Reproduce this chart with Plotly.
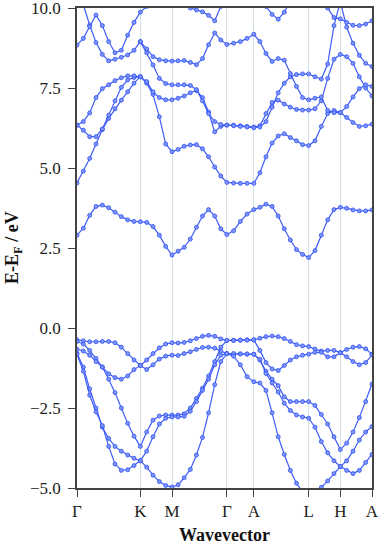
import plotly.graph_objects as go

# k-path sampling (path length, Gamma-K = 1)
k = [0.0, 0.1, 0.2, 0.3, 0.4, 0.5, 0.6, 0.7, 0.8, 0.9, 1.0,
     1.1, 1.2, 1.3, 1.4, 1.5,
     1.596, 1.692, 1.789, 1.885, 1.981, 2.077, 2.174, 2.270, 2.366,
     2.472, 2.579, 2.685, 2.791,
     2.887, 2.983, 3.080, 3.176, 3.272, 3.368, 3.465, 3.561, 3.657,
     3.757, 3.857, 3.957, 4.057, 4.157,
     4.257, 4.357, 4.457, 4.557, 4.657]

sym_pos = [0.0, 1.0, 1.5, 2.366, 2.791, 3.657, 4.157, 4.657]
sym_labels = ["Γ", "K", "M", "Γ", "A", "L", "H", "A"]

e_ticks = [-5, -2.5, 0, 2.5, 5, 7.5, 10]
e_labels = ["−5.0", "−2.5", "0.0", "2.5", "5.0", "7.5", "10.0"]

# valence bands (eV)
val_1 = [-0.37, -0.40, -0.43, -0.43, -0.42, -0.42, -0.46, -0.60, -0.80, -1.00, -1.17,
         -1.00, -0.80, -0.62, -0.50, -0.46,
         -0.47, -0.45, -0.40, -0.33, -0.26, -0.23, -0.26, -0.34, -0.39,
         -0.38, -0.38, -0.37, -0.37,
         -0.32, -0.27, -0.25, -0.27, -0.33, -0.42, -0.52, -0.56, -0.58,
         -0.66, -0.72, -0.70, -0.70, -0.77,
         -0.67, -0.60, -0.58, -0.65, -0.82]
val_2 = [-0.42, -0.50, -0.70, -0.95, -1.22, -1.43, -1.55, -1.60, -1.50, -1.30, -1.17,
         -1.30, -1.15, -0.97, -0.88, -0.85,
         -0.86, -0.80, -0.74, -0.67, -0.61, -0.60, -0.63, -0.72, -0.80,
         -0.81, -0.81, -0.82, -0.82,
         -1.00, -1.35, -1.60, -1.80, -2.15, -2.30, -2.30, -2.30, -2.30,
         -2.42, -2.70, -3.00, -3.40, -3.80,
         -3.60, -3.25, -2.80, -2.30, -1.75]
val_3 = [-0.66, -0.72, -0.85, -1.05, -1.22, -1.60, -2.02, -2.50, -2.98, -3.38, -3.70,
         -3.25, -2.88, -2.75, -2.72, -2.72,
         -2.72, -2.68, -2.50, -2.20, -1.88, -1.50, -1.05, -0.60, -0.39,
         -0.39, -0.38, -0.38, -0.37,
         -0.70, -1.08, -1.28, -1.33, -1.17, -1.00, -0.90, -0.85, -0.82,
         -0.76, -0.76, -0.90, -0.90, -0.77,
         -0.90, -1.05, -1.15, -1.08, -0.84]
val_4 = [-0.79, -1.22, -1.90, -2.50, -3.10, -3.45, -3.70, -3.85, -3.97, -4.07, -4.15,
         -3.85, -3.40, -3.00, -2.82, -2.78,
         -2.78, -2.76, -2.60, -2.30, -1.95, -1.60, -1.15, -0.85, -0.80,
         -0.80, -0.81, -0.81, -0.82,
         -0.98, -1.42, -1.72, -2.00, -2.35, -2.58, -2.72, -2.78, -2.82,
         -3.10, -3.55, -3.90, -4.15, -4.33,
         -4.45, -4.55, -4.45, -4.20, -3.95]
val_5 = [-0.82, -1.35, -2.10, -2.62, -3.05, -3.70, -4.25, -4.45, -4.43, -4.30, -4.15,
         -4.35, -4.60, -4.80, -4.92, -4.97,
         -4.90, -4.68, -4.42, -3.97, -3.42, -2.65, -1.77, -1.05, -0.80,
         -0.88, -1.15, -1.52, -1.68,
         -1.72, -1.95, -2.65, -3.40, -3.95, -4.45, -4.85, -5.15, -5.40,
         -5.30, -4.98, -4.78, -4.55, -4.33,
         -4.15, -3.85, -3.50, -3.25, -3.08]

# conduction bands (eV)
cond_1 = [2.90, 3.12, 3.52, 3.80, 3.84, 3.76, 3.62, 3.48, 3.38, 3.33, 3.32,
          3.30, 3.17, 2.90, 2.55, 2.28,
          2.40, 2.52, 2.78, 3.15, 3.50, 3.70, 3.50, 3.10, 2.92,
          3.04, 3.33, 3.56, 3.70,
          3.77, 3.87, 3.80, 3.50, 3.10, 2.75, 2.45, 2.30, 2.20,
          2.42, 2.90, 3.38, 3.70, 3.77,
          3.74, 3.69, 3.66, 3.66, 3.69]
cond_2 = [4.53, 4.90, 5.30, 5.75, 6.20, 6.55, 6.85, 7.12, 7.38, 7.65, 7.85] + [None] * 37
cond_3 = [6.34, 6.18, 5.98, 5.98, 6.22, 6.65, 7.10, 7.52, 7.75, 7.83, 7.85,
          7.65, 7.30, 6.60, 5.75, 5.51,
          5.58, 5.68, 5.72, 5.73, 5.60, 5.35, 5.03, 4.75, 4.55,
          4.53, 4.52, 4.52, 4.52,
          4.85, 5.35, 5.78, 6.00, 6.07, 5.95, 5.85, 5.73, 5.70,
          5.85, 6.30, 6.70, 6.80, 6.73,
          6.58, 6.42, 6.30, 6.32, 6.37]
cond_4 = [6.34, 6.45, 6.72, 7.20, 7.48, 7.60, 7.73, 7.82, 7.88, 7.88, 7.85,
          7.70, 7.38, 7.20, 7.13, 7.13,
          7.18, 7.25, 7.35, 7.42, 7.20, 6.75, 6.13, 6.30, 6.34,
          6.34, 6.32, 6.30, 6.28,
          6.32, 6.70, 7.05, 7.12, 7.00, 6.90, 6.83, 6.81, 6.81,
          6.85, 7.10, 7.80, 8.40, 8.55,
          8.48, 8.27, 7.85, 7.50, 7.25]
cond_5 = [None] * 10 + [8.95,
          8.60, 8.22, 7.80, 7.64, 7.60,
          7.60, 7.60, 7.58, 7.45, 7.10, 6.70, 6.45, 6.36, 6.34,
          6.32, 6.30, 6.28, 6.26,
          6.28, 6.45, 6.90, 7.35, 7.65, 7.85, 7.92, 7.94, 7.94,
          7.85, 7.78, 8.25, 9.45, 10.20,
          9.40, 8.90, 8.52, 8.27, 8.17]
cond_6 = [10.60, 10.10, 9.47, 8.92, 8.55, 8.35, 8.40, 8.46, 8.53, 8.68, 8.95,
          8.72, 8.48, 8.38, 8.35, 8.34,
          8.35, 8.36, 8.30, 8.23, 8.42, 8.85, 9.22, 9.00, 8.86,
          8.90, 8.95, 9.05, 9.18,
          8.95, 8.58, 8.33, 8.42, 8.37, 7.95, 7.55, 7.20, 7.13,
          7.18, 7.22, 6.80, 6.73, 6.73,
          6.92, 7.22, 7.48, 7.60, 7.55]
cond_7 = [8.84, 9.05, 9.42, 9.78, 9.45, 8.95, 8.60, 8.68, 9.15, 9.55, 9.87,
          10.05, 10.30, 10.40, 10.40, 10.35,
          10.25, 10.10, 10.00, 9.94, 9.88, 9.77, 9.60, 10.05, 10.40,
          10.40, 10.40, 10.40, 10.40,
          10.30, 10.05, 9.80, 9.65, 9.87, 10.20, 10.40, 10.40, 10.40,
          10.40, 10.30, 10.00, 9.70, 9.66,
          9.55, 9.46, 9.45, 9.50, 9.60]

bands = [val_1, val_2, val_3, val_4, val_5,
         cond_1, cond_2, cond_3, cond_4, cond_5, cond_6, cond_7]

line_blue = "rgb(62,92,250)"
serif = "Liberation Serif, Times New Roman, serif"

fig = go.Figure()
for b in bands:
    fig.add_scatter(
        x=k, y=b, mode="lines+markers",
        line=dict(color=line_blue, width=1.2),
        marker=dict(size=4, color="rgb(125,150,255)",
                    line=dict(color="rgb(50,80,240)", width=0.8)),
        hoverinfo="skip"
    )

axis_common = dict(
    showline=True, linecolor="#444", linewidth=1.5, mirror=True,
    ticks="outside", ticklen=7, tickcolor="#444", tickwidth=1.3,
    zeroline=False, automargin=False, ticklabeloverflow="allow",
    tickfont=dict(family=serif, size=17, color="#222"),
)

fig.update_xaxes(
    range=[0, sym_pos[-1]], tickvals=sym_pos, ticktext=sym_labels,
    showgrid=True, gridcolor="#d3e2e8", gridwidth=1,
    **axis_common
)
fig.update_yaxes(
    range=[-5, 10], tickvals=e_ticks, ticktext=e_labels,
    showgrid=False, ticklabelstandoff=4,
    **axis_common
)

fig.update_layout(
    width=381, height=545,
    margin=dict(l=77, r=9, t=8, b=57, autoexpand=False),
    plot_bgcolor="white", paper_bgcolor="white",
    showlegend=False,
    annotations=[
        dict(text="<b>E-E<sub>F</sub> / eV</b>", xref="paper", yref="paper",
             x=0, y=0.5, xshift=-64, textangle=-90, showarrow=False,
             xanchor="center", yanchor="middle",
             font=dict(family=serif, size=18, color="#111")),
        dict(text="<b>Wavevector</b>", xref="paper", yref="paper",
             x=0.5, y=0, yshift=-47, showarrow=False,
             xanchor="center", yanchor="middle",
             font=dict(family=serif, size=18, color="#111")),
    ],
)

# drop the browser's default page margin so the figure sits at (0, 0)
fig.write_html("out.html", config={"displayModeBar": False},
               post_script="document.body.style.margin = '0';")
